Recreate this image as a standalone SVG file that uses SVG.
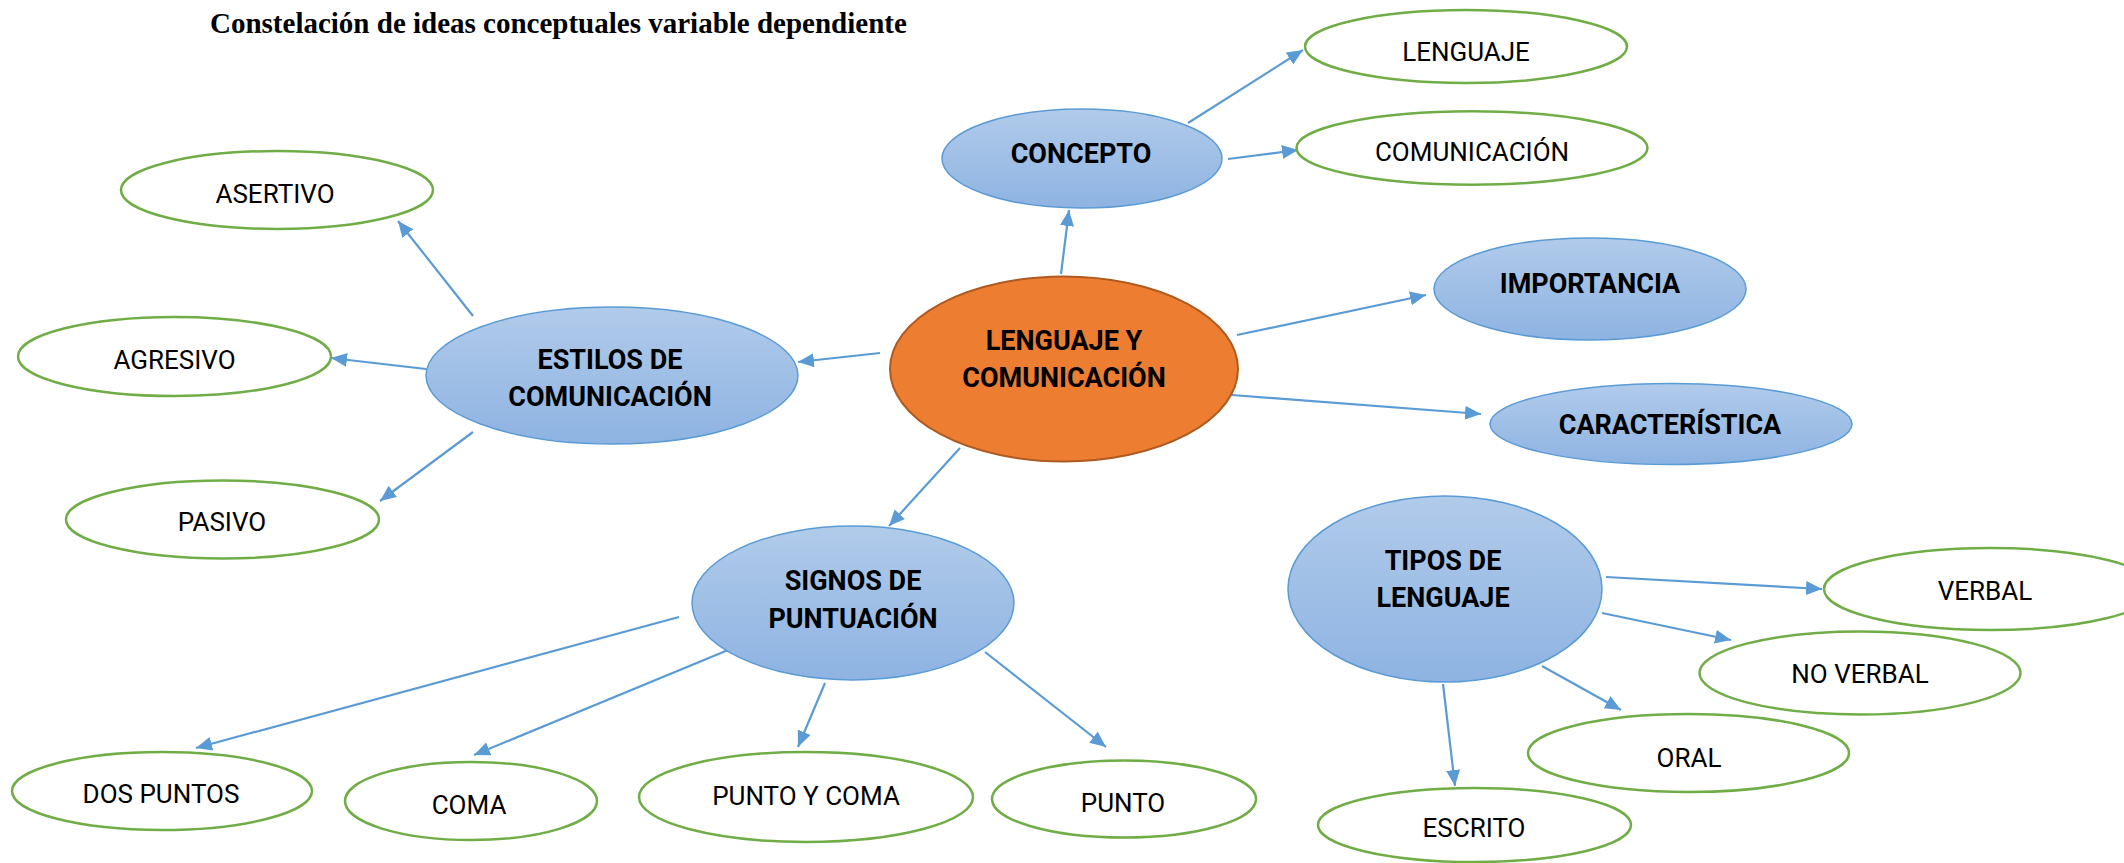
<svg xmlns="http://www.w3.org/2000/svg" width="2124" height="863" viewBox="0 0 2124 863">
<defs>
<linearGradient id="blueGrad" x1="0" y1="0" x2="0" y2="1">
<stop offset="0" stop-color="#B1CBEA"/>
<stop offset="1" stop-color="#8EB3E2"/>
</linearGradient>
<marker id="arrow" markerUnits="userSpaceOnUse" markerWidth="17" markerHeight="15" refX="16" refY="7" orient="auto">
<path d="M0,0 L16,7 L0,14 z" fill="#5B9BD5"/>
</marker>
<style>
.blue{fill:url(#blueGrad);stroke:#5B9BD5;stroke-width:1.5}
.green{fill:#FFFFFF;stroke:#70AD47;stroke-width:2.5}
.main{fill:#ED7D31;stroke:#AE5A21;stroke-width:2}
.b{font-family:Roboto,"Liberation Sans",sans-serif;font-weight:bold;font-size:27px;fill:#000;text-anchor:middle}
.r{font-family:Roboto,"Liberation Sans",sans-serif;font-size:26px;fill:#000;text-anchor:middle}
.t{font-family:"Liberation Serif","Times New Roman",serif;font-weight:bold;font-size:29px;fill:#000}
.c line{stroke:#5B9BD5;stroke-width:2.2;marker-end:url(#arrow)}
</style>
</defs>
<rect width="2124" height="863" fill="#FFFFFF"/>
<text class="t" x="210" y="33">Constelación de ideas conceptuales variable dependiente</text>

<g id="connectors" class="c">
<line x1="1061" y1="274" x2="1069" y2="210"/>
<line x1="1188" y1="123" x2="1303" y2="50"/>
<line x1="1228" y1="159" x2="1298" y2="150"/>
<line x1="1237" y1="335" x2="1426" y2="295"/>
<line x1="1232" y1="395" x2="1481" y2="414"/>
<line x1="880" y1="353" x2="798" y2="362"/>
<line x1="473" y1="316" x2="398" y2="221"/>
<line x1="426" y1="369" x2="331" y2="358"/>
<line x1="473" y1="432" x2="380" y2="501"/>
<line x1="960" y1="448" x2="889" y2="526"/>
<line x1="679" y1="617" x2="196" y2="748"/>
<line x1="733" y1="648" x2="474" y2="755"/>
<line x1="825" y1="683" x2="798" y2="747"/>
<line x1="985" y1="652" x2="1106" y2="747"/>
<line x1="1606" y1="577" x2="1822" y2="589"/>
<line x1="1602" y1="613" x2="1731" y2="640"/>
<line x1="1542" y1="666" x2="1621" y2="710"/>
<line x1="1443" y1="684" x2="1455" y2="786"/>
</g>

<g id="lenguaje-comunicacion">
<ellipse class="main" cx="1064" cy="369" rx="174" ry="92.5"/>
<text class="b" x="1064" y="349.5">LENGUAJE Y</text>
<text class="b" x="1064" y="386.5">COMUNICACIÓN</text>
</g>

<g id="concepto">
<ellipse class="blue" cx="1082" cy="158.5" rx="140" ry="49.5"/>
<text class="b" x="1081" y="163">CONCEPTO</text>
</g>
<g id="lenguaje">
<ellipse class="green" cx="1466" cy="46.5" rx="161" ry="36.5"/>
<text class="r" x="1466" y="61">LENGUAJE</text>
</g>
<g id="comunicacion">
<ellipse class="green" cx="1472" cy="148" rx="175.5" ry="36.7"/>
<text class="r" x="1472" y="161">COMUNICACIÓN</text>
</g>

<g id="importancia">
<ellipse class="blue" cx="1590" cy="289" rx="156" ry="51"/>
<text class="b" x="1590" y="293">IMPORTANCIA</text>
</g>
<g id="caracteristica">
<ellipse class="blue" cx="1671" cy="424" rx="181" ry="40.5"/>
<text class="b" x="1670" y="434">CARACTERÍSTICA</text>
</g>

<g id="estilos">
<ellipse class="blue" cx="612" cy="375.5" rx="186" ry="68.5"/>
<text class="b" x="610" y="368.5">ESTILOS DE</text>
<text class="b" x="610" y="405.5">COMUNICACIÓN</text>
</g>
<g id="asertivo">
<ellipse class="green" cx="277" cy="190" rx="156" ry="39"/>
<text class="r" x="275" y="202.5">ASERTIVO</text>
</g>
<g id="agresivo">
<ellipse class="green" cx="174.5" cy="356.5" rx="156.5" ry="39.5"/>
<text class="r" x="174.5" y="368.5">AGRESIVO</text>
</g>
<g id="pasivo">
<ellipse class="green" cx="222.5" cy="519.5" rx="156.5" ry="39"/>
<text class="r" x="222" y="531">PASIVO</text>
</g>

<g id="signos">
<ellipse class="blue" cx="853" cy="603" rx="161" ry="77"/>
<text class="b" x="853" y="589.5">SIGNOS DE</text>
<text class="b" x="853" y="627.5">PUNTUACIÓN</text>
</g>
<g id="dos-puntos">
<ellipse class="green" cx="162" cy="791" rx="150" ry="39"/>
<text class="r" x="161" y="803">DOS PUNTOS</text>
</g>
<g id="coma">
<ellipse class="green" cx="471" cy="801" rx="126" ry="39"/>
<text class="r" x="469" y="813.5">COMA</text>
</g>
<g id="punto-y-coma">
<ellipse class="green" cx="806" cy="797" rx="167" ry="45"/>
<text class="r" x="806" y="804.5">PUNTO Y COMA</text>
</g>
<g id="punto">
<ellipse class="green" cx="1124" cy="799" rx="132" ry="38.5"/>
<text class="r" x="1123" y="811.5">PUNTO</text>
</g>

<g id="tipos">
<ellipse class="blue" cx="1445" cy="589" rx="157" ry="93"/>
<text class="b" x="1443" y="569.5">TIPOS DE</text>
<text class="b" x="1443" y="606.5">LENGUAJE</text>
</g>
<g id="verbal">
<ellipse class="green" cx="1990" cy="589" rx="166" ry="41"/>
<text class="r" x="1985" y="599.5">VERBAL</text>
</g>
<g id="no-verbal">
<ellipse class="green" cx="1860" cy="673" rx="160.5" ry="41.5"/>
<text class="r" x="1860" y="682.5">NO VERBAL</text>
</g>
<g id="oral">
<ellipse class="green" cx="1688.5" cy="753" rx="160.5" ry="39"/>
<text class="r" x="1689" y="767">ORAL</text>
</g>
<g id="escrito">
<ellipse class="green" cx="1474.5" cy="825" rx="156.5" ry="37"/>
<text class="r" x="1474" y="836.5">ESCRITO</text>
</g>
</svg>
